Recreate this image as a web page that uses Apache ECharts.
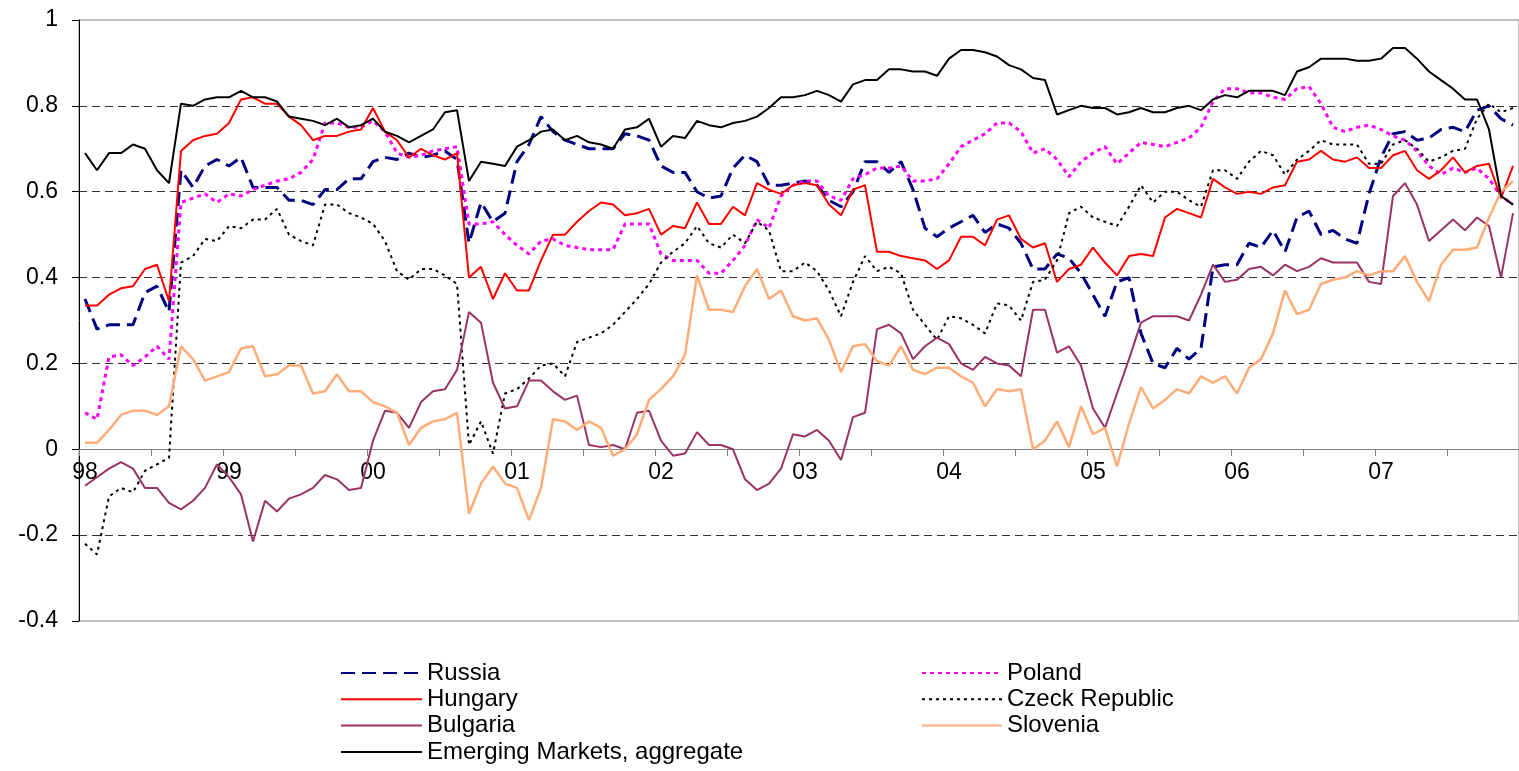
<!DOCTYPE html>
<html>
<head>
<meta charset="utf-8">
<title>Correlation with emerging markets</title>
<script src="https://cdn.jsdelivr.net/npm/echarts@6.0.0/dist/echarts.min.js"></script>
<style>
html, body { margin: 0; padding: 0; background: #ffffff; }
#main { width: 1519px; height: 771px; }
</style>
</head>
<body>
<div id="main"></div>
<script>
// year labels on the x axis, one per 12 monthly points (Jan 98 .. Dec 07)
var years = ['98', '99', '00', '01', '02', '03', '04', '05', '06', '07'];

var russia = [
	0.35, 0.28, 0.29, 0.29, 0.29, 0.365, 0.38, 0.32, 0.65, 0.61, 0.66, 0.675, 0.66,
	0.68, 0.61, 0.61, 0.61, 0.58, 0.58, 0.57, 0.605, 0.605, 0.63, 0.63, 0.67,
	0.68, 0.675, 0.69, 0.68, 0.685, 0.695, 0.675, 0.48, 0.575, 0.53, 0.55, 0.67,
	0.71, 0.775, 0.74, 0.72, 0.71, 0.70, 0.70, 0.70, 0.735, 0.73, 0.72, 0.66,
	0.645, 0.645, 0.60, 0.585, 0.59, 0.655, 0.685, 0.67, 0.615, 0.615, 0.62, 0.625,
	0.615, 0.58, 0.565, 0.60, 0.67, 0.67, 0.645, 0.67, 0.605, 0.515, 0.495, 0.515,
	0.53, 0.545, 0.505, 0.525, 0.515, 0.48, 0.42, 0.42, 0.455, 0.445, 0.41, 0.36,
	0.31, 0.39, 0.40, 0.27, 0.2, 0.19, 0.235, 0.21, 0.235, 0.425, 0.43, 0.43,
	0.48, 0.47, 0.51, 0.46, 0.54, 0.555, 0.50, 0.51, 0.49, 0.48, 0.595, 0.68,
	0.735, 0.74, 0.72, 0.725, 0.745, 0.75, 0.74, 0.79, 0.80, 0.77, 0.755
];
var poland = [
	0.085, 0.07, 0.215, 0.22, 0.195, 0.215, 0.24, 0.21, 0.575, 0.585, 0.595, 0.575, 0.595,
	0.59, 0.605, 0.615, 0.625, 0.63, 0.645, 0.675, 0.76, 0.76, 0.75, 0.75, 0.765,
	0.74, 0.69, 0.68, 0.685, 0.695, 0.70, 0.705, 0.525, 0.525, 0.53, 0.50, 0.475,
	0.455, 0.485, 0.49, 0.475, 0.47, 0.465, 0.465, 0.465, 0.525, 0.525, 0.525, 0.455,
	0.44, 0.44, 0.44, 0.41, 0.41, 0.44, 0.475, 0.535, 0.515, 0.59, 0.615, 0.625,
	0.625, 0.59, 0.58, 0.63, 0.64, 0.655, 0.655, 0.66, 0.625, 0.625, 0.63, 0.665,
	0.705, 0.72, 0.735, 0.76, 0.76, 0.74, 0.69, 0.70, 0.675, 0.635, 0.67, 0.69,
	0.705, 0.665, 0.69, 0.715, 0.71, 0.705, 0.715, 0.725, 0.75, 0.81, 0.84, 0.84,
	0.83, 0.83, 0.82, 0.815, 0.84, 0.845, 0.805, 0.75, 0.74, 0.75, 0.755, 0.745,
	0.73, 0.72, 0.695, 0.66, 0.64, 0.655, 0.645, 0.655, 0.63, 0.59, 0.57
];
var hungary = [
	0.335, 0.335, 0.36, 0.375, 0.38, 0.42, 0.43, 0.345, 0.695, 0.72, 0.73, 0.735, 0.76,
	0.815, 0.82, 0.805, 0.805, 0.775, 0.755, 0.72, 0.73, 0.73, 0.74, 0.745, 0.795,
	0.74, 0.72, 0.68, 0.70, 0.685, 0.675, 0.69, 0.40, 0.425, 0.35, 0.41, 0.37,
	0.37, 0.44, 0.50, 0.50, 0.53, 0.555, 0.575, 0.57, 0.545, 0.55, 0.56, 0.50,
	0.52, 0.515, 0.575, 0.525, 0.525, 0.565, 0.545, 0.62, 0.605, 0.595, 0.615, 0.62,
	0.615, 0.57, 0.545, 0.605, 0.615, 0.46, 0.46, 0.45, 0.445, 0.44, 0.42, 0.44,
	0.495, 0.495, 0.475, 0.535, 0.545, 0.49, 0.47, 0.48, 0.39, 0.42, 0.43, 0.47,
	0.435, 0.405, 0.45, 0.455, 0.45, 0.54, 0.56, 0.55, 0.54, 0.63, 0.61, 0.595,
	0.60, 0.595, 0.61, 0.615, 0.67, 0.675, 0.695, 0.675, 0.67, 0.68, 0.655, 0.655,
	0.685, 0.695, 0.65, 0.63, 0.65, 0.68, 0.645, 0.66, 0.665, 0.585, 0.66
];
var czech = [
	-0.22, -0.245, -0.11, -0.09, -0.1, -0.05, -0.035, -0.02, 0.435, 0.45, 0.49, 0.485, 0.52,
	0.515, 0.535, 0.535, 0.56, 0.50, 0.485, 0.475, 0.57, 0.57, 0.55, 0.54, 0.525,
	0.485, 0.415, 0.395, 0.42, 0.42, 0.405, 0.385, 0.01, 0.065, -0.01, 0.13, 0.14,
	0.165, 0.195, 0.20, 0.17, 0.25, 0.26, 0.27, 0.29, 0.32, 0.35, 0.385, 0.435,
	0.46, 0.48, 0.52, 0.48, 0.47, 0.50, 0.48, 0.53, 0.51, 0.415, 0.415, 0.435,
	0.415, 0.37, 0.31, 0.39, 0.45, 0.415, 0.425, 0.41, 0.325, 0.29, 0.255, 0.31,
	0.305, 0.29, 0.27, 0.34, 0.335, 0.30, 0.39, 0.395, 0.44, 0.55, 0.565, 0.54,
	0.53, 0.52, 0.565, 0.615, 0.575, 0.60, 0.60, 0.58, 0.565, 0.65, 0.65, 0.63,
	0.67, 0.695, 0.685, 0.64, 0.675, 0.695, 0.72, 0.71, 0.71, 0.71, 0.665, 0.665,
	0.71, 0.72, 0.70, 0.67, 0.68, 0.695, 0.70, 0.77, 0.805, 0.785, 0.795
];
var bulgaria = [
	-0.085, -0.065, -0.045, -0.03, -0.045, -0.09, -0.09, -0.125, -0.14, -0.12, -0.09, -0.035, -0.065,
	-0.105, -0.215, -0.12, -0.145, -0.115, -0.105, -0.09, -0.06, -0.07, -0.095, -0.09, 0.02,
	0.09, 0.085, 0.05, 0.11, 0.135, 0.14, 0.185, 0.32, 0.295, 0.155, 0.095, 0.10,
	0.16, 0.16, 0.135, 0.115, 0.125, 0.01, 0.005, 0.01, 0.0, 0.085, 0.09, 0.02,
	-0.015, -0.01, 0.04, 0.01, 0.01, 0.0, -0.07, -0.095, -0.08, -0.045, 0.035, 0.03,
	0.045, 0.02, -0.025, 0.075, 0.085, 0.28, 0.29, 0.27, 0.21, 0.24, 0.26, 0.245,
	0.2, 0.185, 0.215, 0.2, 0.195, 0.17, 0.325, 0.325, 0.225, 0.24, 0.195, 0.095,
	0.05, 0.13, 0.21, 0.295, 0.31, 0.31, 0.31, 0.30, 0.36, 0.43, 0.39, 0.395,
	0.42, 0.425, 0.405, 0.43, 0.415, 0.425, 0.445, 0.435, 0.435, 0.435, 0.39, 0.385,
	0.59, 0.62, 0.57, 0.485, 0.51, 0.535, 0.51, 0.54, 0.52, 0.40, 0.55
];
var slovenia = [
	0.015, 0.015, 0.045, 0.08, 0.09, 0.09, 0.08, 0.1, 0.24, 0.21, 0.16, 0.17, 0.18,
	0.235, 0.24, 0.17, 0.175, 0.195, 0.195, 0.13, 0.135, 0.175, 0.135, 0.135, 0.11,
	0.1, 0.085, 0.01, 0.05, 0.065, 0.07, 0.085, -0.15, -0.08, -0.04, -0.08, -0.09,
	-0.165, -0.09, 0.07, 0.065, 0.045, 0.065, 0.05, -0.015, 0.0, 0.035, 0.115, 0.14,
	0.17, 0.22, 0.405, 0.325, 0.325, 0.32, 0.38, 0.42, 0.35, 0.37, 0.31, 0.30,
	0.305, 0.255, 0.18, 0.24, 0.245, 0.205, 0.195, 0.24, 0.185, 0.175, 0.19, 0.19,
	0.17, 0.155, 0.1, 0.14, 0.135, 0.14, 0.0, 0.02, 0.065, 0.005, 0.1, 0.035,
	0.05, -0.04, 0.06, 0.145, 0.095, 0.115, 0.14, 0.13, 0.17, 0.155, 0.17, 0.13,
	0.19, 0.21, 0.27, 0.37, 0.315, 0.325, 0.385, 0.395, 0.4, 0.415, 0.405, 0.415,
	0.415, 0.45, 0.39, 0.345, 0.43, 0.465, 0.465, 0.47, 0.54, 0.60, 0.625
];
var emerging = [
	0.69, 0.65, 0.69, 0.69, 0.71, 0.70, 0.65, 0.62, 0.805, 0.80, 0.815, 0.82, 0.82,
	0.835, 0.82, 0.82, 0.81, 0.775, 0.77, 0.765, 0.755, 0.77, 0.75, 0.755, 0.77,
	0.74, 0.73, 0.715, 0.73, 0.745, 0.785, 0.79, 0.625, 0.67, 0.665, 0.66, 0.705,
	0.72, 0.74, 0.745, 0.72, 0.73, 0.715, 0.71, 0.70, 0.745, 0.75, 0.77, 0.705,
	0.73, 0.725, 0.765, 0.755, 0.75, 0.76, 0.765, 0.775, 0.795, 0.82, 0.82, 0.825,
	0.835, 0.825, 0.81, 0.85, 0.86, 0.86, 0.885, 0.885, 0.88, 0.88, 0.87, 0.91,
	0.93, 0.93, 0.925, 0.915, 0.895, 0.885, 0.865, 0.86, 0.78, 0.79, 0.80, 0.795,
	0.795, 0.78, 0.785, 0.795, 0.785, 0.785, 0.795, 0.80, 0.79, 0.815, 0.825, 0.82,
	0.835, 0.835, 0.835, 0.825, 0.88, 0.89, 0.91, 0.91, 0.91, 0.905, 0.905, 0.91,
	0.935, 0.935, 0.91, 0.88, 0.86, 0.84, 0.815, 0.815, 0.745, 0.59, 0.57
];

// monthly categories, only the first month of each year gets a label
var months = [];
for (var y = 0; y < years.length; y++) {
	for (var m = 1; m <= 12; m++) {
		months.push(years[y] + '-' + m);
	}
}

var font = "'Liberation Sans', Arial, sans-serif";
var yMin = -0.4, yMax = 1;
var gridTop = 20, gridBottom = 150, chartHeight = 771;
// the category axis sits on the zero line, so move it up from the bottom edge
var zeroOffset = -Math.round((chartHeight - gridTop - gridBottom) * (0 - yMin) / (yMax - yMin));

function lineSeries(name, data, color, width, type) {
	return {
		name: name,
		type: 'line',
		data: data,
		symbol: 'none',
		smooth: false,
		lineStyle: { color: color, width: width, type: type },
		itemStyle: { color: color },
		emphasis: { disabled: true }
	};
}

var legendText = { fontFamily: font, fontSize: 24, color: '#000', lineHeight: 24 };

var myChart = echarts.init(document.getElementById('main'));
var option = {
	animation: false,
	backgroundColor: '#ffffff',
	grid: {
		left: 79,
		right: -1,
		top: gridTop,
		bottom: gridBottom,
		show: true,
		borderColor: '#808080',
		borderWidth: 1
	},
	legend: [{
		orient: 'vertical',
		left: 340,
		top: 661,
		height: 110,
		padding: 0,
		itemWidth: 81,
		itemHeight: 14,
		itemGap: 2.3,
		itemStyle: { opacity: 0 },
		textStyle: legendText,
		data: ['Russia', 'Hungary', 'Bulgaria', 'Emerging Markets, aggregate']
	}, {
		orient: 'vertical',
		left: 921,
		top: 661,
		height: 110,
		padding: 0,
		itemWidth: 80,
		itemHeight: 14,
		itemGap: 2.3,
		itemStyle: { opacity: 0 },
		textStyle: legendText,
		data: ['Poland', 'Czeck Republic', 'Slovenia']
	}],
	xAxis: {
		type: 'category',
		data: months,
		boundaryGap: true,
		position: 'bottom',
		offset: zeroOffset,
		axisLine: { onZero: false, lineStyle: { color: '#808080', width: 1 } },
		axisTick: { show: true, interval: 5, length: 7, lineStyle: { color: '#808080' } },
		axisLabel: {
			interval: 11,
			margin: 12,
			fontFamily: font,
			fontSize: 23,
			color: '#000',
			formatter: function (v) { return v.split('-')[0]; }
		},
		splitLine: { show: false }
	},
	yAxis: {
		type: 'value',
		min: yMin,
		max: yMax,
		interval: 0.2,
		axisLine: { show: true, lineStyle: { color: '#000', width: 1 } },
		axisTick: { show: true, length: 7, lineStyle: { color: '#000' } },
		axisLabel: { margin: 21, fontFamily: font, fontSize: 23, color: '#000' },
		splitLine: {
			show: true,
			// -0.4 .. 1 : the border and the zero axis take the solid ones
			lineStyle: {
				type: [8, 5],
				width: 1,
				color: ['rgba(0,0,0,0)', '#333', 'rgba(0,0,0,0)', '#333', '#333', '#333', '#333', 'rgba(0,0,0,0)']
			}
		}
	},
	series: [
		lineSeries('Russia', russia, '#000080', 3, [14, 7]),
		lineSeries('Poland', poland, '#ff00ff', 3, [4, 4]),
		lineSeries('Hungary', hungary, '#ff0000', 2, 'solid'),
		lineSeries('Czeck Republic', czech, '#000000', 2, [3, 4]),
		lineSeries('Bulgaria', bulgaria, '#993366', 2, 'solid'),
		lineSeries('Slovenia', slovenia, '#ffad78', 2.5, 'solid'),
		lineSeries('Emerging Markets, aggregate', emerging, '#000000', 2, 'solid')
	]
};
myChart.setOption(option);
</script>
</body>
</html>
